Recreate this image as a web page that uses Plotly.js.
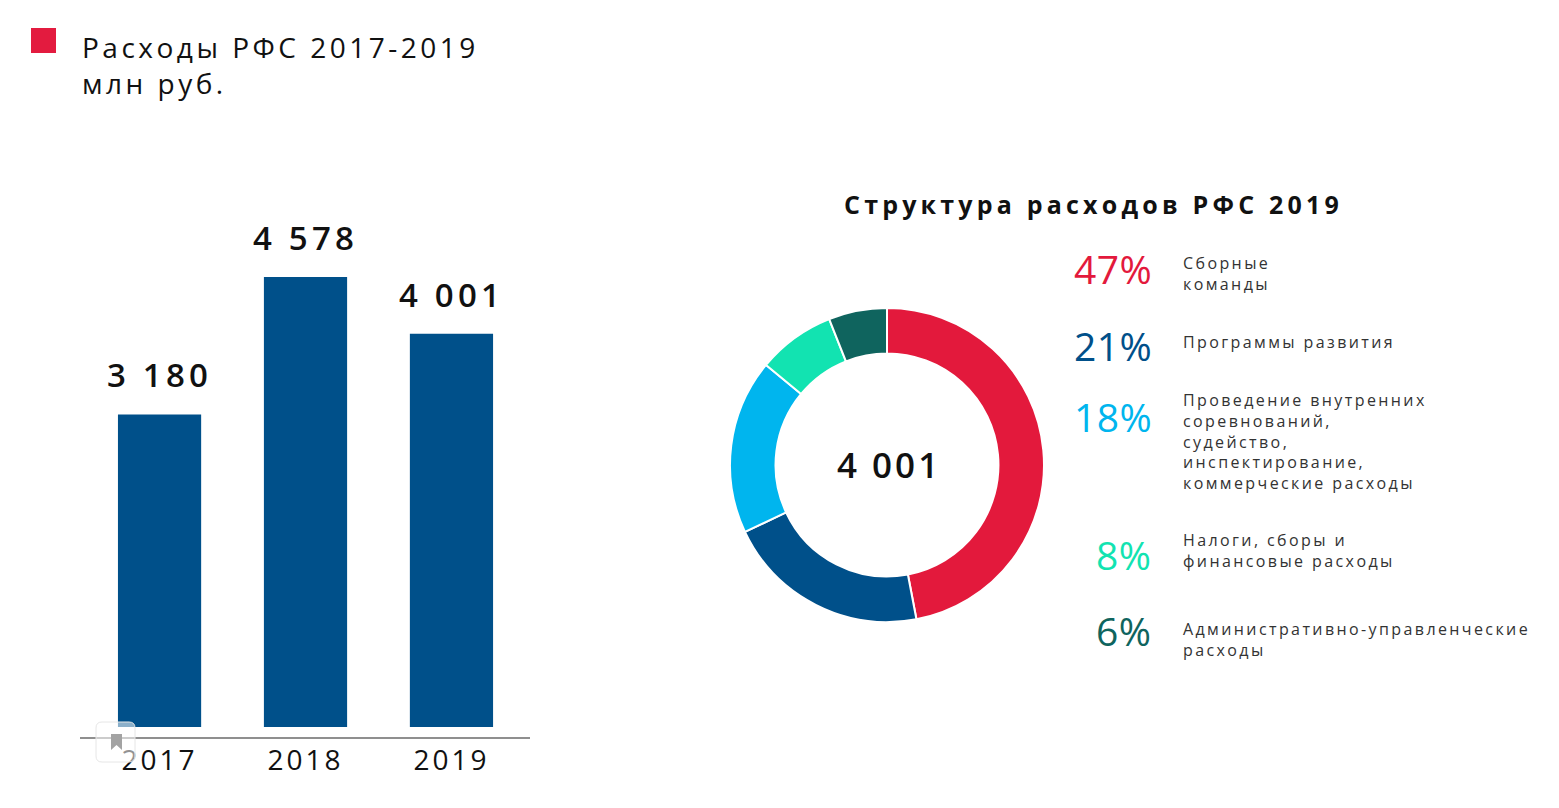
<!DOCTYPE html>
<html><head><meta charset="utf-8">
<script src="https://cdn.plot.ly/plotly-3.0.1.min.js"></script>
<style>
html,body{margin:0;padding:0;background:#fff;}
#chart{width:1559px;height:808px;}
</style></head><body><div id="chart"></div>
<script>
// ---- data ----
const years = ['2017', '2018', '2019'];
const expenses = [3180, 4578, 4001];
const expenseLabels = ['3 180', '4 578', '4 001'];

const structureCategories = [
  'Сборные команды',
  'Программы развития',
  'Проведение внутренних соревнований, судейство, инспектирование, коммерческие расходы',
  'Налоги, сборы и финансовые расходы',
  'Административно-управленческие расходы'
];
const structureLabels = [
  'Сборные<br>команды',
  'Программы развития',
  'Проведение внутренних<br>соревнований,<br>судейство,<br>инспектирование,<br>коммерческие расходы',
  'Налоги, сборы и<br>финансовые расходы',
  'Административно-управленческие<br>расходы'
];
const structureShares = [47, 21, 18, 8, 6];
const structureColors = ['#e3193c', '#00508a', '#00b5ee', '#12e3b1', '#0f645e'];
const totalLabel = '4 001';

const mainTitle1 = 'Расходы РФС 2017-2019';
const mainTitle2 = 'млн руб.';
const donutTitle = 'Структура расходов РФС 2019';

// ---- layout helpers ----
const W = 1559, H = 808;
const px = v => v / W;
const py = v => 1 - v / H;
const FONT = 'Open Sans, Noto Sans, sans-serif';
const ls = (t, sp) => t.split('<br>').map(s => '<span style="letter-spacing:' + sp + 'px">' + s + '</span>').join('<br>');

const barTrace = {
  type: 'bar', x: years, y: expenses,
  marker: { color: '#00508a' },
  width: 0.57, hoverinfo: 'skip',
  xaxis: 'x', yaxis: 'y'
};

const cx = 887, cy = 465, R = 157;
const pieTrace = {
  type: 'pie',
  labels: structureCategories,
  values: structureShares,
  marker: { colors: structureColors, line: { color: '#ffffff', width: 2 } },
  hole: 0.71, sort: false, direction: 'clockwise', rotation: 0,
  textinfo: 'none', hoverinfo: 'skip', showlegend: false,
  domain: { x: [px(cx - R), px(cx + R)], y: [py(cy + R), py(cy - R)] }
};

const annotations = [];
// bar value labels
years.forEach((yr, i) => {
  annotations.push({
    x: i, y: expenses[i], xref: 'x', yref: 'y',
    text: ls(expenseLabels[i], 4.2), showarrow: false,
    xanchor: 'center', yanchor: 'bottom', yshift: 15,
    font: { family: FONT, size: 33, color: '#111', weight: 600 }
  });
});
// titles
annotations.push({ xref: 'paper', yref: 'paper', x: px(80), y: py(46.5), xanchor: 'left', yanchor: 'middle',
  text: ls(mainTitle1, 3.5), showarrow: false, font: { family: FONT, size: 28, color: '#111', weight: 500 } });
annotations.push({ xref: 'paper', yref: 'paper', x: px(80), y: py(83), xanchor: 'left', yanchor: 'middle',
  text: ls(mainTitle2, 3.5), showarrow: false, font: { family: FONT, size: 28, color: '#111', weight: 500 } });
annotations.push({ xref: 'paper', yref: 'paper', x: px(1093), y: py(204), xanchor: 'center', yanchor: 'middle',
  text: ls(donutTitle, 4.2), showarrow: false, font: { family: FONT, size: 25, color: '#111', weight: 700 } });
// donut center
annotations.push({ xref: 'paper', yref: 'paper', x: px(cx + 2), y: py(cy), xanchor: 'center', yanchor: 'middle',
  text: ls(totalLabel, 3), showarrow: false, font: { family: FONT, size: 35, color: '#111', weight: 600 } });
// legend
const pctCenters = [269, 345.5, 416.5, 554, 630];
const labelCenters = [273.5, 342, 441, 550.5, 639.5];
structureShares.forEach((v, i) => {
  annotations.push({ xref: 'paper', yref: 'paper', x: px(1154), y: py(pctCenters[i]), xanchor: 'right', yanchor: 'middle',
    text: ls(v + '%', 0.5), showarrow: false, font: { family: FONT, size: 39, color: structureColors[i], weight: 400 } });
  annotations.push({ xref: 'paper', yref: 'paper', x: px(1181), y: py(labelCenters[i]), xanchor: 'left', yanchor: 'middle',
    align: 'left', text: ls(structureLabels[i], 2.4), showarrow: false,
    font: { family: FONT, size: 16, color: '#333', weight: 400 } });
});

const shapes = [
  { type: 'rect', xref: 'paper', yref: 'paper', x0: px(31), x1: px(56), y0: py(53), y1: py(28),
    fillcolor: '#e31b3f', line: { width: 0 } },
  // small bookmark card
  { type: 'path', xref: 'paper', yref: 'paper', layer: 'above',
    path: 'M ' + px(102) + ',' + py(722) + ' L ' + px(129) + ',' + py(722) + ' Q ' + px(135) + ',' + py(722) + ' ' + px(135) + ',' + py(728) +
      ' L ' + px(135) + ',' + py(756) + ' Q ' + px(135) + ',' + py(762) + ' ' + px(129) + ',' + py(762) +
      ' L ' + px(102) + ',' + py(762) + ' Q ' + px(96) + ',' + py(762) + ' ' + px(96) + ',' + py(756) +
      ' L ' + px(96) + ',' + py(728) + ' Q ' + px(96) + ',' + py(722) + ' ' + px(102) + ',' + py(722) + ' Z',
    fillcolor: 'rgba(255,255,255,0.55)', line: { color: '#e6e6e6', width: 1 } },
  { type: 'path', xref: 'paper', yref: 'paper', layer: 'above',
    path: 'M ' + px(111) + ',' + py(734) + ' L ' + px(122) + ',' + py(734) + ' L ' + px(122) + ',' + py(750) +
      ' L ' + px(116.5) + ',' + py(745) + ' L ' + px(111) + ',' + py(750) + ' Z',
    fillcolor: '#a3a3a3', line: { width: 0 } }
];

const layout = {
  width: W, height: H,
  margin: { l: 0, r: 0, t: 0, b: 0 },
  paper_bgcolor: '#ffffff', plot_bgcolor: 'rgba(0,0,0,0)',
  showlegend: false,
  font: { family: FONT },
  xaxis: {
    type: 'category',
    domain: [px(80), px(530)], range: [-0.545, 2.538],
    tickmode: 'array', tickvals: years, ticktext: years.map(y => ls(y, 3)),
    ticklabelstandoff: -3,
    showline: true, linecolor: '#8f8f8f', linewidth: 2,
    showgrid: false, zeroline: false, ticks: '', fixedrange: true,
    tickfont: { family: FONT, size: 28, color: '#111', weight: 500 }
  },
  yaxis: {
    domain: [py(737), py(200)], range: [-102, 5361],
    visible: false, showgrid: false, zeroline: false, fixedrange: true
  },
  annotations: annotations,
  shapes: shapes
};

Plotly.newPlot('chart', [barTrace, pieTrace], layout, { displayModeBar: false, staticPlot: true });
</script></body></html>
